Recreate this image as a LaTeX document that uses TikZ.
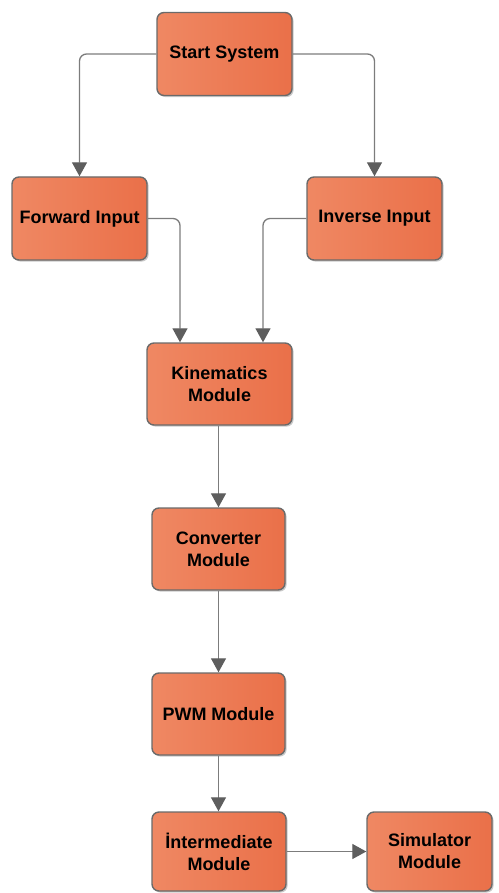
\documentclass[tikz,border=0pt]{standalone}
\usepackage{fontspec}
\setmainfont{Liberation Sans}
\usetikzlibrary{arrows.meta,shadows}

\definecolor{boxlight}{HTML}{EF8863}
\definecolor{boxdark}{HTML}{EA7049}
\definecolor{boxedge}{HTML}{6A6A6A}
\definecolor{wire}{HTML}{7C7C7C}
\definecolor{tipgray}{HTML}{5E5E5E}

\tikzset{
  module/.style={
    draw=boxedge, line width=1.4pt, rounded corners=7pt,
    left color=boxlight, right color=boxdark,
    drop shadow={shadow xshift=1.6pt, shadow yshift=-1.6pt, opacity=0.35, fill=black!60},
    align=center, font=\fontsize{18}{22}\selectfont\bfseries, text=black,
    inner sep=0pt},
  wideness/.style 2 args={minimum width=#1pt, minimum height=#2pt},
  link/.style={draw=wire, line width=1.3pt, rounded corners=7pt,
    -{Triangle[length=14pt, width=15pt, fill=tipgray, color=tipgray]}},
}

\begin{document}
\begin{tikzpicture}[x=1pt, y=-1pt]
  \useasboundingbox (0,0) rectangle (498,893);

  \node[module, wideness={135}{83}] (start) at (224.5,54) {Start System};
  \node[module, wideness={135}{83}] (fwd)   at (79.5,218.5) {Forward Input};
  \node[module, wideness={135}{83}] (inv)   at (374.5,218.5) {Inverse Input};
  \node[module, wideness={145}{82}] (kin)   at (219.5,384) {Kinematics\\Module};
  \node[module, wideness={133}{82}] (conv)  at (218.5,549) {Converter\\Module};
  \node[module, wideness={133}{82}] (pwm)   at (218.5,714) {PWM Module};
  \node[module, wideness={134}{79}] (inter) at (219,851.5) {İntermediate\\Module};
  \node[module, wideness={125}{79}] (sim)   at (429.5,851.5) {Simulator\\Module};

  \draw[link] (start.west) -| (fwd.north);
  \draw[link] (start.east) -| (inv.north);
  \draw[link] (fwd.east) -| ([xshift=-39.5pt]kin.north);
  \draw[link] (inv.west) -| ([xshift=43.5pt]kin.north);
  \draw[link] (kin.south -| conv.north) -- (conv.north);
  \draw[link] (conv.south) -- (pwm.north);
  \draw[link] (pwm.south) -- (pwm.south |- inter.north);
  \draw[link] (inter.east) -- (sim.west);
\end{tikzpicture}
\end{document}
